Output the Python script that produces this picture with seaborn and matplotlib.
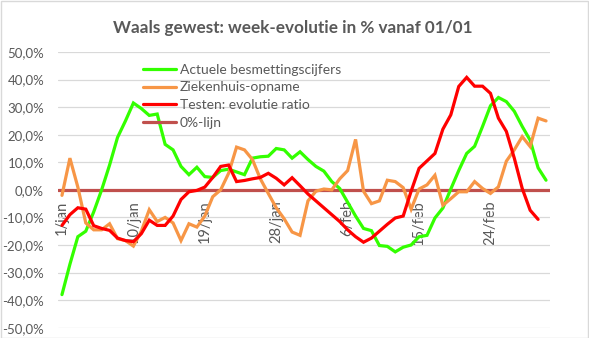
import numpy as np
import pandas as pd
import matplotlib
matplotlib.use("Agg")
import matplotlib.pyplot as plt
import seaborn as sns
from matplotlib.patches import Rectangle
from matplotlib.ticker import FuncFormatter, FixedLocator

# Daily week-on-week evolution (%) for Wallonia, starting 1 January
dates = pd.date_range("2021-01-01", "2021-03-03", freq="D")

besmettingen = [-38, -27, -17, -15, -8, 0, 9, 19, 25, 31.5,
                29.5, 27, 27.5, 16.5, 14.5, 8.5, 5.5, 8.2, 4.8, 4.5,
                7, 7.5, 6.5, 5.5, 11.5, 12, 12.2, 15, 14.5, 11.5,
                13.8, 11, 8.5, 6.8, 3, 0.5, -4.5, -9.5, -14, -14.8,
                -20.2, -20.5, -22.5, -20.8, -20, -17, -16.5, -10.2, -6.6, 0.3,
                7, 13.2, 15.8, 23, 30.5, 33.5, 32, 28.5, 23, 18,
                8, 3.5]

ziekenhuis = [-2, 11.5, 1, -12, -14.5, -14.5, -12.3, -17.7, -18.4, -20.4,
              -15, -7.2, -11.5, -10, -12, -18.4, -12.3, -13.5, -9.5, -2.5,
              0, 6, 15.5, 14.5, 11, 4, -1.3, -6.5, -10.5, -15.3,
              -16.5, -4, -0.5, 0.3, 0, 4, 7, 18.3, -0.5, -5,
              -4, 3.5, 3, 0.8, -7, 0.3, 1.8, 5.3, -5.6, -3.2,
              -0.7, -0.7, 3, 0.5, -1.3, 1.1, 10.4, 14.5, 19.3, 15.7,
              26, 25]

testen = [-12.9, -9, -6.5, -7, -13, -14, -14.7, -17.5, -18.4, -18.8,
          -15.9, -11, -12.9, -12.9, -9.5, -3.5, -0.7, -0.2, 1, 4.5,
          8.5, 9, 3, 3.4, 4, 4.5, 6, 4.2, 1.8, 4.4,
          1.5, -1.5, -4, -6.5, -9, -11.5, -14.5, -17, -19, -17.5,
          -15, -12.5, -10.2, -9.5, -0.5, 7.8, 10.5, 13.2, 22, 27.2,
          37.5, 40.8, 37.6, 37.6, 35, 26, 21.2, 11.5, 0.5, -7.4,
          -10.7]

tick_labels = ["1/jan", "10/jan", "19/jan", "28/jan", "6/feb", "15/feb", "24/feb"]
tick_step = 9

series = [
    ("Actuele besmettingscijfers", besmettingen, "#33FF00"),
    ("Ziekenhuis-opname", ziekenhuis, "#F79646"),
    ("Testen: evolutie ratio", testen, "#FF0000"),
]

sns.set_theme(style="white")
plt.rcParams["font.family"] = ["Lato", "DejaVu Sans"]

W, H = 589, 338
fig = plt.figure(figsize=(W / 100, H / 100), dpi=100)
ax = fig.add_axes([58 / W, 1 - 327.7 / H, (550 - 58) / W, (327.7 - 52) / H])

day_idx = np.arange(len(dates))
for name, values, color in series:
    sns.lineplot(x=day_idx[:len(values)], y=values, ax=ax, color=color,
                 linewidth=2.3, label=name, solid_joinstyle="miter")
ax.axhline(0, color="#C0504D", linewidth=2.3, label="0%-lijn", zorder=1.5)

# horizontal axis crosses at 0 %; position it before configuring the ticks
for s in ["top", "right", "left"]:
    ax.spines[s].set_visible(False)
ax.spines["bottom"].set_position(("data", 0))
ax.spines["bottom"].set_visible(False)

ax.set_xlim(-0.5, len(dates) - 0.5)
ax.set_ylim(-50, 50)
ax.yaxis.set_major_locator(FixedLocator(np.arange(-50, 51, 10)))
ax.yaxis.set_major_formatter(FuncFormatter(lambda v, p: f"{v:.1f}%".replace(".", ",")))
ax.grid(axis="y", color="#D9D9D9", linewidth=0.9)
ax.set_axisbelow(True)

ax.set_xticks(np.arange(0, len(dates), tick_step)[:len(tick_labels)])
ax.set_xticklabels(tick_labels, rotation=90, va="top", ha="center")
ax.tick_params(axis="x", length=0, pad=7.5, labelsize=10.5, labelcolor="#595959")
ax.tick_params(axis="y", length=0, pad=10, labelsize=9.5, labelcolor="#595959")
ax.set_xlabel("")
ax.set_ylabel("")

leg = ax.legend(loc="upper left", bbox_to_anchor=(79 / 492, 1 - 6 / 275.7),
                frameon=False, fontsize=10, handlelength=2.4, handletextpad=0.3,
                labelspacing=0.42, borderaxespad=0)
for t in leg.get_texts():
    t.set_color("#595959")

fig.text(293 / W, 1 - 28 / H, "Waals gewest: week-evolutie in % vanaf 01/01",
         ha="center", va="center", fontsize=12.3, fontweight="bold", color="#595959")

fig.patches.append(Rectangle((0.5 / W, 0.5 / H), 1 - 1.5 / W, 1 - 1.5 / H,
                             transform=fig.transFigure, fill=False,
                             edgecolor="#D9D9D9", linewidth=1))

fig.savefig("out.png", dpi=100)
